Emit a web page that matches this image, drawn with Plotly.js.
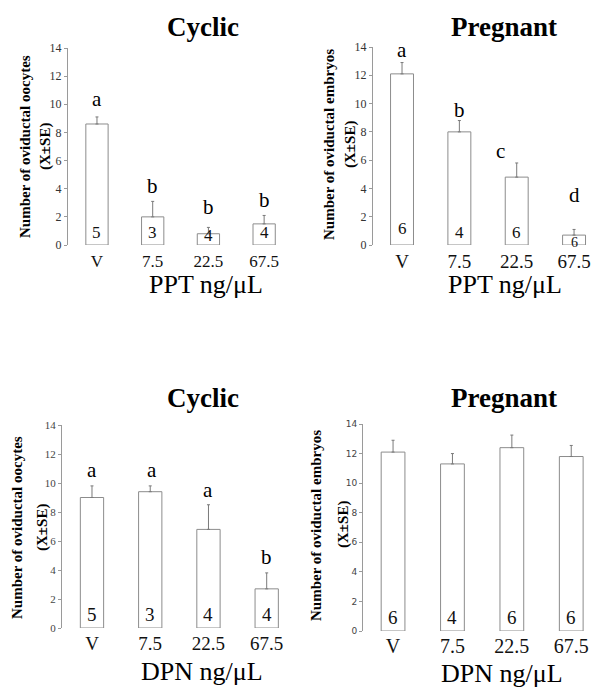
<!DOCTYPE html>
<html>
<head>
<meta charset="utf-8">
<script src="https://cdn.plot.ly/plotly-3.0.1.min.js"></script>
<style>html,body{margin:0;padding:0;background:#fff;}#chart{width:600px;height:693px;}</style>
</head>
<body>
<div id="chart"></div>
<script>
// ---- data ----
const doses = ["V", "7.5", "22.5", "67.5"];

const pptCyclicMean = [8.6, 2.0, 0.8, 1.5];
const pptCyclicSE   = [0.5, 1.1, 0.45, 0.6];
const pptCyclicN    = ["5", "3", "4", "4"];
const pptCyclicSig  = ["a", "b", "b", "b"];

const pptPregMean = [12.1, 8.0, 4.8, 0.7];
const pptPregSE   = [0.8, 0.8, 1.0, 0.4];
const pptPregN    = ["6", "4", "6", "6"];
const pptPregSig  = ["a", "b", "c", "d"];

const dpnCyclicMean = [9.0, 9.4, 6.8, 2.7];
const dpnCyclicSE   = [0.8, 0.4, 1.7, 1.1];
const dpnCyclicN    = ["5", "3", "4", "4"];
const dpnCyclicSig  = ["a", "a", "a", "b"];

const dpnPregMean = [12.1, 11.3, 12.4, 11.8];
const dpnPregSE   = [0.8, 0.7, 0.85, 0.75];
const dpnPregN    = ["6", "4", "6", "6"];

const yTicks = [0, 2, 4, 6, 8, 10, 12, 14];

// ---- layout helpers ----
const W = 600, H = 693;
const SERIF = "Liberation Serif, Times New Roman, serif";
const px2x = p => p / W;
const px2y = p => 1 - p / H;

const panels = [
  {mean: pptCyclicMean, se: pptCyclicSE, n: pptCyclicN, sig: pptCyclicSig,
   title: "Cyclic", xtitle: "PPT ng/μL", ytitle: "Number of oviductal oocytes",
   xd: [68, 292], xr: [-0.52, 3.5], yd: [48, 245],
   tickFont: {family: SERIF, size: 12, color: "#333"}, xtickSize: 17, xtickStand: 4, nSize: 17,
   titleXY: [203, 27], xtitleXY: [206, 285], ytitleX: [25, 45], ytitleY: 147,
   sigShift: [4, 1, 6, 1], sigDx: [0, 0, 0, 0], nShift: [1, 1, -2, 1]},
  {mean: pptPregMean, se: pptPregSE, n: pptPregN, sig: pptPregSig,
   title: "Pregnant", xtitle: "PPT ng/μL", ytitle: "Number of oviductal embryos",
   xd: [373, 597], xr: [-0.506, 3.4], yd: [47, 245],
   tickFont: {family: SERIF, size: 12, color: "#333"}, xtickSize: 19, xtickStand: 3, nSize: 17,
   titleXY: [504, 27], xtitleXY: [505, 284], ytitleX: [329, 350], ytitleY: 145,
   sigShift: [-1, -3, -2, 20], sigDx: [0, 0, -16, 0], nShift: [5, 1, 1, -7]},
  {mean: dpnCyclicMean, se: dpnCyclicSE, n: dpnCyclicN, sig: dpnCyclicSig,
   title: "Cyclic", xtitle: "DPN ng/μL", ytitle: "Number of oviductal oocytes",
   xd: [62, 290], xr: [-0.515, 3.4], yd: [425, 628],
   tickFont: {family: SERIF, size: 11, color: "#444"}, xtickSize: 19, xtickStand: 2, nSize: 19,
   titleXY: [203, 398], xtitleXY: [202, 671], ytitleX: [17, 42], ytitleY: 528,
   sigShift: [2, 2, 1, 2], sigDx: [0, 2, 0, 0], nShift: [1, 1, 1, 1]},
  {mean: dpnPregMean, se: dpnPregSE, n: dpnPregN, sig: null,
   title: "Pregnant", xtitle: "DPN ng/μL", ytitle: "Number of oviductal embryos",
   xd: [363, 595], xr: [-0.506, 3.4], yd: [424, 631],
   tickFont: {family: "DejaVu Sans, Verdana, sans-serif", size: 9, color: "#444"}, xtickSize: 20, xtickStand: 1, nSize: 19,
   titleXY: [504, 398], xtitleXY: [502, 673], ytitleX: [316, 343], ytitleY: 525,
   sigShift: [0, 0, 0, 0], sigDx: [0, 0, 0, 0], nShift: [1, 1, 1, 1]}
];

const data = [];
const layout = {
  width: W, height: H,
  margin: {l: 0, r: 0, t: 0, b: 0},
  paper_bgcolor: "#fff", plot_bgcolor: "rgba(0,0,0,0)",
  showlegend: false,
  annotations: []
};

panels.forEach((p, i) => {
  const k = i === 0 ? "" : String(i + 1);
  const xa = "x" + k, ya = "y" + k;
  data.push({
    type: "bar", x: doses, y: p.mean, xaxis: xa, yaxis: ya, width: 0.4,
    marker: {color: "#fff", line: {color: "#8c8c8c", width: 1}},
    error_y: {type: "data", symmetric: false, array: p.se, arrayminus: p.se.map(() => 0),
              color: "#7a7a7a", thickness: 1, width: 1.5},
    hoverinfo: "skip"
  });
  layout["xaxis" + k] = {
    domain: [px2x(p.xd[0]), px2x(p.xd[1])], range: p.xr, type: "category",
    anchor: ya, showline: false, showgrid: false, zeroline: false, ticks: "",
    ticklabelstandoff: p.xtickStand,
    tickfont: {family: SERIF, size: p.xtickSize, color: "#111"}, fixedrange: true
  };
  layout["yaxis" + k] = {
    domain: [px2y(p.yd[1]), px2y(p.yd[0])], range: [0, 14],
    anchor: xa, showline: true, linecolor: "#9a9a9a", linewidth: 1,
    showgrid: false, zeroline: false, ticks: "outside", ticklen: 3, tickcolor: "#9a9a9a",
    tickvals: yTicks, tickfont: p.tickFont, fixedrange: true
  };
  // panel title
  layout.annotations.push({xref: "paper", yref: "paper", x: px2x(p.titleXY[0]), y: px2y(p.titleXY[1]),
    text: "<b>" + p.title + "</b>", showarrow: false, xanchor: "center", yanchor: "middle",
    font: {family: SERIF, size: 27, color: "#000"}});
  // x title
  layout.annotations.push({xref: "paper", yref: "paper", x: px2x(p.xtitleXY[0]), y: px2y(p.xtitleXY[1]),
    text: p.xtitle, showarrow: false, xanchor: "center", yanchor: "middle", borderpad: 0,
    font: {family: SERIF, size: 26, color: "#000"}});
  // y title (two lines)
  layout.annotations.push({xref: "paper", yref: "paper", x: px2x(p.ytitleX[0]), y: px2y(p.ytitleY),
    text: "<b>" + p.ytitle + "</b>", showarrow: false, textangle: -90, xanchor: "center", yanchor: "middle",
    font: {family: SERIF, size: 15, color: "#000"}});
  layout.annotations.push({xref: "paper", yref: "paper", x: px2x(p.ytitleX[1]), y: px2y(p.ytitleY),
    text: "<b>(X±SE)</b>", showarrow: false, textangle: -90, xanchor: "center", yanchor: "middle",
    font: {family: SERIF, size: 15, color: "#000"}});
  // n counts and significance letters (category positions by index)
  doses.forEach((d, j) => {
    layout.annotations.push({xref: xa, yref: ya, x: j, y: 0, text: p.n[j], showarrow: false,
      xanchor: "center", yanchor: "bottom", yshift: p.nShift[j],
      font: {family: SERIF, size: (i === 1 && j === 3) ? 14 : p.nSize, color: "#111"}});
    if (p.sig) {
      layout.annotations.push({xref: xa, yref: ya, x: j, y: p.mean[j] + p.se[j], text: p.sig[j],
        showarrow: false, xanchor: "center", yanchor: "bottom", yshift: p.sigShift[j], xshift: p.sigDx[j],
        font: {family: SERIF, size: 21, color: "#000"}});
    }
  });
});

Plotly.newPlot("chart", data, layout, {staticPlot: true, displayModeBar: false});
</script>
</body>
</html>
